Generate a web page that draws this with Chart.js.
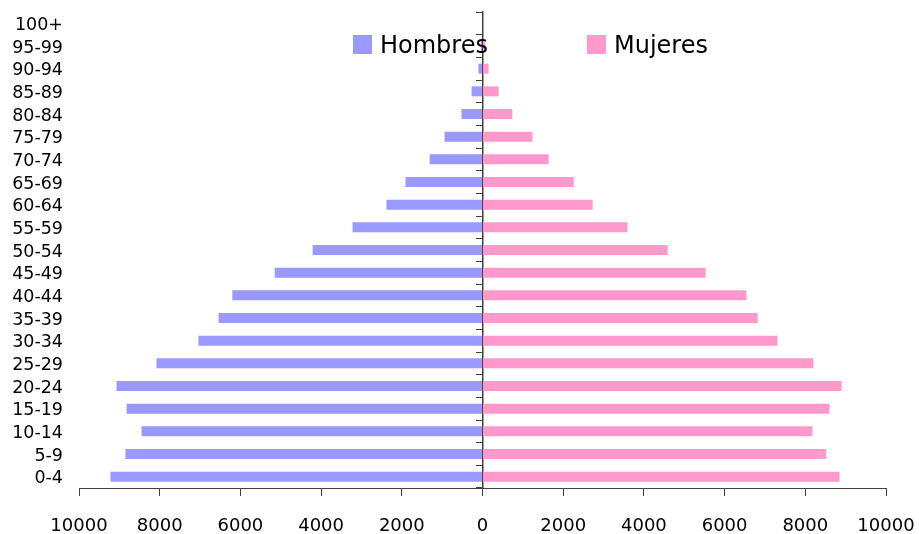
<!DOCTYPE html>
<html>
<head>
<meta charset="utf-8">
<script src="https://cdn.jsdelivr.net/npm/chart.js@4/dist/chart.umd.min.js"></script>
<style>
  html, body { margin: 0; padding: 0; background: #fff; }
  #wrap { width: 919px; height: 534px; }
</style>
</head>
<body>
<div id="wrap"><canvas id="c" width="919" height="534"></canvas></div>
<script>
// Age groups (bottom to top)
const ageGroups = ['0-4','5-9','10-14','15-19','20-24','25-29','30-34','35-39','40-44','45-49','50-54','55-59','60-64','65-69','70-74','75-79','80-84','85-89','90-94','95-99','100+'];
// Men (shown to the left)
const hombres = [9220, 8850, 8450, 8820, 9070, 8080, 7040, 6540, 6200, 5150, 4210, 3220, 2380, 1910, 1310, 940, 520, 270, 100, 40, 12];
// Women (shown to the right)
const mujeres = [8850, 8520, 8180, 8600, 8900, 8200, 7310, 6820, 6540, 5530, 4590, 3590, 2730, 2260, 1640, 1240, 740, 400, 150, 65, 15];
const xTicks = [-10000, -8000, -6000, -4000, -2000, 0, 2000, 4000, 6000, 8000, 10000];

const FONT = 'DejaVu Sans';
const BLUE = '#9999FF';
const PINK = '#FF99CC';

const legendPlugin = {
  id: 'customLegend',
  afterDraw(chart) {
    const ctx = chart.ctx;
    ctx.save();
    ctx.font = '24px "' + FONT + '"';
    ctx.textBaseline = 'alphabetic';
    ctx.textAlign = 'left';
    const items = [
      { label: chart.data.datasets[0].label, color: chart.data.datasets[0].backgroundColor, x: 353 },
      { label: chart.data.datasets[1].label, color: chart.data.datasets[1].backgroundColor, x: 587 }
    ];
    items.forEach(it => {
      ctx.fillStyle = it.color;
      ctx.fillRect(it.x, 35, 19, 19);
      ctx.fillStyle = '#000';
      ctx.fillText(it.label, it.x + 27, 53);
    });
    ctx.restore();
  }
};

function noPad(scale) {
  scale.paddingTop = 0; scale.paddingBottom = 0;
  scale.paddingLeft = 0; scale.paddingRight = 0;
}

new Chart(document.getElementById('c'), {
  type: 'bar',
  data: {
    labels: ageGroups,
    datasets: [
      { label: 'Hombres', data: hombres.map(v => -v), backgroundColor: BLUE, borderWidth: 0, barPercentage: 0.44, categoryPercentage: 1, yAxisID: 'y' },
      { label: 'Mujeres', data: mujeres, backgroundColor: PINK, borderWidth: 0, barPercentage: 0.44, categoryPercentage: 1, yAxisID: 'y' }
    ]
  },
  options: {
    indexAxis: 'y',
    responsive: false,
    animation: false,
    devicePixelRatio: 1,
    layout: { padding: { left: 0, right: 33, top: 12, bottom: 0 } },
    plugins: {
      legend: { display: false },
      tooltip: { enabled: false },
      title: { display: false }
    },
    scales: {
      x: {
        stacked: true,
        min: -10000,
        max: 10000,
        afterBuildTicks(scale) { scale.ticks = xTicks.map(v => ({ value: v })); },
        afterFit(scale) { scale.height = 46; noPad(scale); },
        ticks: {
          callback: v => String(Math.abs(v)),
          font: { family: FONT, size: 18 },
          color: '#000',
          padding: 20,
          maxRotation: 0
        },
        grid: {
          drawOnChartArea: false,
          drawTicks: true,
          tickLength: 8,
          color: '#404040',
          lineWidth: 1
        },
        border: { display: true, color: '#404040', width: 1 }
      },
      y: {
        stacked: true,
        reverse: true,
        position: 'left',
        afterFit(scale) { scale.width = 79; noPad(scale); },
        ticks: {
          font: { family: FONT, size: 17.5 },
          color: '#000',
          padding: 8,
          labelOffset: 2,
          autoSkip: false
        },
        grid: { display: false },
        border: { display: false }
      },
      y2: {
        type: 'category',
        reverse: true,
        position: { x: 0 },
        offset: true,
        afterFit(scale) { noPad(scale); },
        ticks: { display: false },
        grid: {
          offset: true,
          drawOnChartArea: false,
          drawTicks: true,
          tickLength: 6,
          color: '#404040'
        },
        border: { display: true, color: '#404040', width: 1.5 }
      }
    }
  },
  plugins: [legendPlugin]
});
</script>
</body>
</html>
